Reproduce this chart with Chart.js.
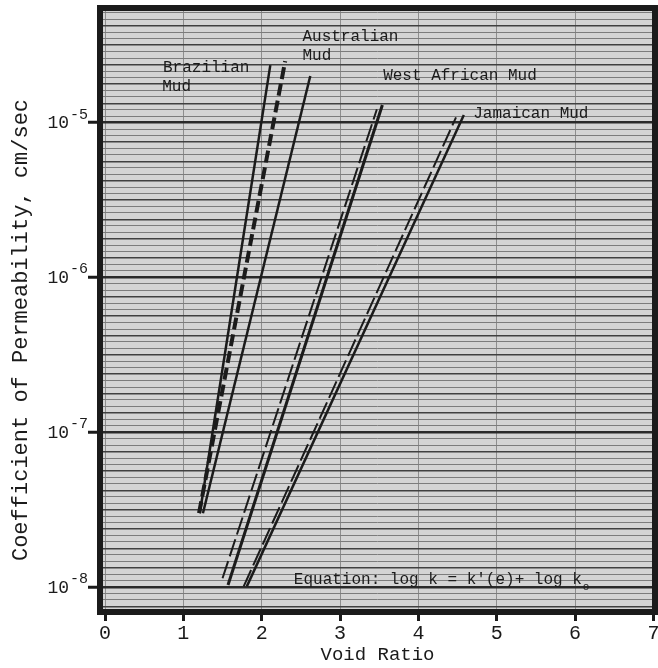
<!DOCTYPE html>
<html>
<head>
<meta charset="utf-8">
<script src="https://cdn.jsdelivr.net/npm/chart.js@4"></script>
<style>
  body { margin: 0; background: #fff; }
  canvas { display: block; }
</style>
</head>
<body>
<canvas id="permChart" width="658" height="668"></canvas>
<script>
// void ratio (e) and permeability k (cm/sec) at the two ends of each line
const brazilianE = [1.21, 2.11];
const brazilianK = [3.0e-8, 2.35e-5];
const brazilianDashE = [1.20, 2.30];
const brazilianDashK = [3.0e-8, 2.5e-5];
const australianE = [1.25, 2.62];
const australianK = [3.0e-8, 2.0e-5];
const westAfricanE = [1.57, 3.54];
const westAfricanK = [1.03e-8, 1.3e-5];
const westAfricanDashE = [1.50, 3.47];
const westAfricanDashK = [1.14e-8, 1.22e-5];
const jamaicanE = [1.81, 4.58];
const jamaicanK = [1.01e-8, 1.12e-5];
const jamaicanDashE = [1.77, 4.48];
const jamaicanDashK = [1.01e-8, 1.08e-5];

const xTickValues = [0, 1, 2, 3, 4, 5, 6, 7];
const yExponents = [-8, -7, -6, -5];

// text notes, placed in data units (e, k)
const notes = [
  { text: 'Brazilian', e: 0.74, k: 2.25e-5 },
  { text: 'Mud', e: 0.73, k: 1.70e-5 },
  { text: 'Australian', e: 2.52, k: 3.6e-5 },
  { text: 'Mud', e: 2.52, k: 2.7e-5 },
  { text: 'West African Mud', e: 3.55, k: 2.0e-5 },
  { text: 'Jamaican Mud', e: 4.70, k: 1.14e-5 },
  { text: "Equation: log k = k'(e)+ log k", e: 2.41, k: 1.12e-8 }
];

const pts = (xs, ys) => xs.map((x, i) => ({ x: x, y: ys[i] }));
const INK = '#1b1b1b';
const MONO = '"Liberation Mono", "DejaVu Sans Mono", monospace';

const isDecade = (v) => Math.abs(Math.log10(v) - Math.round(Math.log10(v))) < 1e-6;

const paperDecor = {
  id: 'paperDecor',
  beforeDraw(chart) {
    const { ctx, chartArea: a } = chart;
    ctx.save();
    ctx.fillStyle = '#d4d4d4';
    ctx.fillRect(a.left, a.top, a.right - a.left, a.bottom - a.top);
    ctx.restore();
  },
  afterDraw(chart) {
    const { ctx, chartArea: a } = chart;
    const xs = chart.scales.x, ys = chart.scales.y;
    ctx.save();
    // heavy frame
    ctx.strokeStyle = INK;
    ctx.lineWidth = 6;
    ctx.strokeRect(a.left, a.top, a.right - a.left, a.bottom - a.top);

    ctx.fillStyle = INK;
    // y tick labels 10^n
    yExponents.forEach(n => {
      const y = ys.getPixelForValue(Math.pow(10, n));
      ctx.font = '18px ' + MONO;
      ctx.textAlign = 'right';
      ctx.textBaseline = 'middle';
      ctx.fillText('10', 69, y + 1);
      ctx.font = '15px ' + MONO;
      ctx.textAlign = 'left';
      ctx.fillText('-' + Math.abs(n), 70, y - 8);
    });

    // notes on the plot
    ctx.font = '16px ' + MONO;
    ctx.textAlign = 'left';
    ctx.textBaseline = 'middle';
    notes.forEach(n => {
      const px = xs.getPixelForValue(n.e);
      const py = ys.getPixelForValue(n.k);
      ctx.fillText(n.text, px, py);
      if (n.text.startsWith('Equation')) {
        const w = ctx.measureText(n.text).width;
        ctx.font = '11px ' + MONO;
        ctx.fillText('o', px + w + 1, py + 8);
        ctx.font = '16px ' + MONO;
      }
    });

    // axis titles
    ctx.font = '19px ' + MONO;
    ctx.textAlign = 'center';
    ctx.textBaseline = 'middle';
    ctx.fillText('Void Ratio', (a.left + a.right) / 2, 655);
    ctx.translate(21, 330);
    ctx.rotate(-Math.PI / 2);
    ctx.font = '22px ' + MONO;
    ctx.fillText('Coefficient of Permeability, cm/sec', 0, 0);
    ctx.restore();
  }
};

new Chart(document.getElementById('permChart'), {
  type: 'line',
  data: {
    datasets: [
      { label: 'Brazilian Mud', data: pts(brazilianE, brazilianK), borderWidth: 2.5 },
      { label: 'Brazilian Mud (dashed)', data: pts(brazilianDashE, brazilianDashK), borderWidth: 4, borderDash: [12, 5] },
      { label: 'Australian Mud', data: pts(australianE, australianK), borderWidth: 2.5 },
      { label: 'West African Mud', data: pts(westAfricanE, westAfricanK), borderWidth: 3 },
      { label: 'West African Mud (dashed)', data: pts(westAfricanDashE, westAfricanDashK), borderWidth: 2, borderDash: [18, 5] },
      { label: 'Jamaican Mud', data: pts(jamaicanE, jamaicanK), borderWidth: 2.5 },
      { label: 'Jamaican Mud (dashed)', data: pts(jamaicanDashE, jamaicanDashK), borderWidth: 2, borderDash: [18, 5] }
    ].map(d => Object.assign({ borderColor: INK, pointRadius: 0, fill: false, tension: 0 }, d))
  },
  options: {
    responsive: false,
    animation: false,
    layout: { padding: { top: 8, right: 3, left: 0, bottom: 0 } },
    plugins: { legend: { display: false }, tooltip: { enabled: false } },
    scales: {
      x: {
        type: 'linear',
        min: -0.064,
        max: 7.02,
        afterBuildTicks: (s) => { s.ticks = xTickValues.map(v => ({ value: v })); },
        afterFit: (s) => { s.height = 56; s.paddingLeft = 0; s.paddingRight = 0; },
        border: { display: false },
        grid: { color: '#8e8e8e', lineWidth: 1, tickColor: INK, tickWidth: 3, tickLength: 9 },
        ticks: { font: { family: MONO, size: 20 }, color: INK, padding: 1, maxRotation: 0, autoSkip: false }
      },
      y: {
        type: 'logarithmic',
        min: 6.9e-9,
        max: 5.5e-5,
        afterBuildTicks: (s) => {
          const lo = Math.ceil(Math.log10(s.min) * 24);
          const hi = Math.floor(Math.log10(s.max) * 24);
          const t = [];
          for (let n = lo; n <= hi; n++) t.push({ value: Math.pow(10, n / 24) });
          s.ticks = t;
        },
        afterFit: (s) => { s.width = 100; s.paddingTop = 0; s.paddingBottom = 0; },
        border: { display: false },
        grid: {
          color: (c) => c.tick && isDecade(c.tick.value) ? '#2a2a2a' : (c.index % 3 === 0 ? '#404040' : '#7c7c7c'),
          lineWidth: (c) => c.tick && isDecade(c.tick.value) ? 2.5 : (c.index % 3 === 0 ? 1.5 : 1),
          tickColor: (c) => c.tick && isDecade(c.tick.value) ? INK : 'rgba(0,0,0,0)',
          tickWidth: 3,
          tickLength: 12
        },
        ticks: { display: false }
      }
    }
  },
  plugins: [paperDecor]
});
</script>
</body>
</html>
